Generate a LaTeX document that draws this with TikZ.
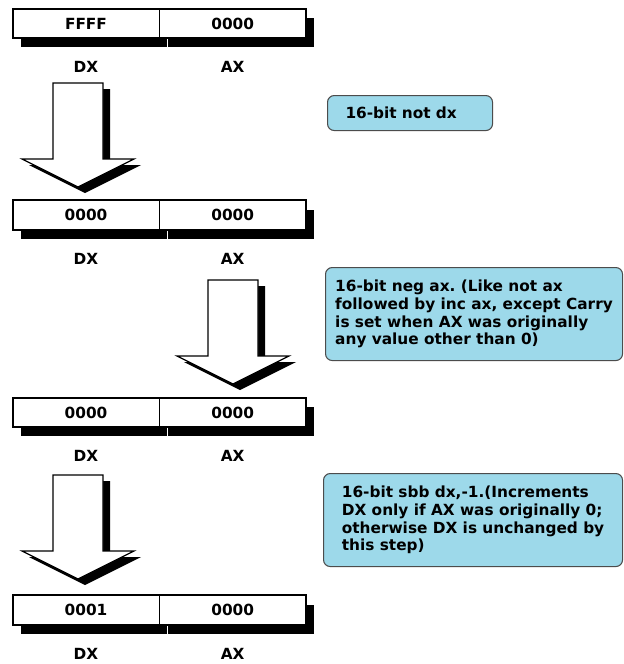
\documentclass[tikz,border=0pt]{standalone}
\usepackage{fontspec}
\setmainfont{DejaVu Sans}
\usetikzlibrary{positioning,shadows}
\definecolor{notefill}{HTML}{9DD9EA}
\frenchspacing

\begin{document}
\begin{tikzpicture}[x=0.75pt,y=-0.75pt,font=\bfseries\fontsize{11.5}{13.3}\selectfont,
    reg/.style={draw,fill=white,line width=0.5pt,minimum width=109.5pt,minimum height=21.75pt,inner sep=0pt,
        drop shadow={shadow xshift=6pt,shadow yshift=-6.75pt,fill=black,opacity=1}},
    note/.style={draw=black!70,fill=notefill,line width=0.8pt,rounded corners=5pt,anchor=north west,
        align=left,inner xsep=0pt},
    blk/.style={draw,fill=white,line width=0.9pt,
        drop shadow={shadow xshift=5.25pt,shadow yshift=-4.5pt,fill=black,opacity=1}}]
    \useasboundingbox[fill=white] (0,0) rectangle (624,664);

    % registers DX:AX
    \node[reg] (dx1) at (86,23.5) {FFFF};
    \node[reg,right=0pt of dx1] (ax1) {0000};
    \node[reg] (dx2) at (86,215) {0000};
    \node[reg,right=0pt of dx2] (ax2) {0000};
    \node[reg] (dx3) at (86,412.5) {0000};
    \node[reg,right=0pt of dx3] (ax3) {0000};
    \node[reg] (dx4) at (86,610) {0001};
    \node[reg,right=0pt of dx4] (ax4) {0000};
    \foreach \i in {1,...,4} {
        \draw[line width=1.5pt] (dx\i.north west) rectangle (ax\i.south east);
        \node[below=14pt of dx\i] (ndx\i) {DX};
        \node[below=14pt of ax\i] (nax\i) {AX};
    }

    % block arrows between steps
    \coordinate (t1) at (78,83);
    \coordinate (t2) at (233,280);
    \coordinate (t3) at (78,475);
    \foreach \t in {t1,t2,t3}
        \draw[blk] (\t) ++(-25,0) -- ++(50,0) -- ++(0,76) -- ++(31,0) -- ++(-56,28)
            -- ++(-56,-28) -- ++(31,0) -- cycle;

    % notes
    \node[note,minimum width=123.75pt,minimum height=26.25pt,text width=96.75pt] (c1) at (327,95)
        {16-bit not dx};
    \node[note,minimum width=222.75pt,minimum height=69.75pt] (c2) at (325,267)
        {16-bit neg ax. (Like not ax\\followed by inc ax, except Carry\\is set when AX was originally\\any value other than 0)};
    \node[note,minimum width=224.25pt,minimum height=69.75pt] (c3) at (323,473)
        {16-bit sbb dx,-1.(Increments\\DX only if AX was originally 0;\\otherwise DX is unchanged by\\this step)};
\end{tikzpicture}
\end{document}
